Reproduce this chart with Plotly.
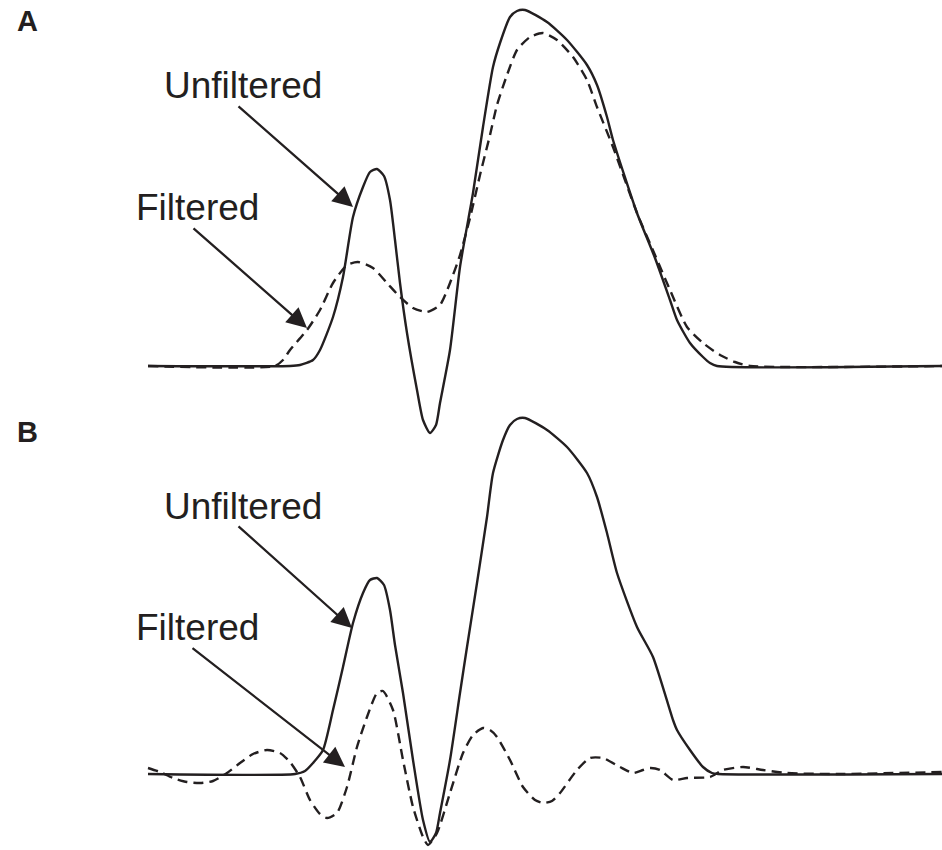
import plotly.graph_objects as go

# ---- Panel A (time in ms-like units, amplitude in arbitrary units) ----
a_solid_t = [0, 14.2, 15.2, 16.5, 17.2, 18.5, 19.5, 20.5, 21.5, 22.2, 22.9, 23.6, 24.2, 24.7,
             25.2, 25.9, 26.9, 27.5, 28.2, 28.8, 29.2, 30.2, 31.2, 32.2, 32.5, 33.5, 34.5, 35.2,
             36.2, 36.9, 37.7, 39.9, 41.9, 43.9, 44.9, 45.9, 46.5, 48.9, 50.7, 52.2, 52.9, 54.2,
             55.5, 56.2, 56.9, 79.4]
a_solid_v = [0, 0, 0.01, 0.06, 0.16, 0.49, 0.89, 1.49, 1.79, 1.94, 1.97, 1.90, 1.66, 1.26,
             0.83, 0.33, -0.24, -0.54, -0.67, -0.59, -0.37, 0.16, 0.99, 1.56, 1.73, 2.39, 2.99, 3.23,
             3.49, 3.55, 3.56, 3.44, 3.26, 3.01, 2.81, 2.49, 2.26, 1.53, 1.08, 0.66, 0.46, 0.23,
             0.09, 0.03, 0, 0]

a_filt_t = [0, 12.7, 13.5, 14.2, 15.9, 17.2, 18.5, 19.9, 21.0, 22.5, 23.9, 25.2, 26.5, 27.9,
            29.2, 30.2, 31.2, 32.2, 33.2, 34.2, 34.9, 35.9, 36.9, 38.2, 39.5, 40.9, 42.5, 43.9,
            44.9, 46.5, 48.9, 50.7, 52.2, 53.9, 55.5, 57.2, 58.7, 60.2, 79.4]
a_filt_v = [0, 0, 0.06, 0.16, 0.36, 0.56, 0.83, 1.01, 1.04, 0.98, 0.83, 0.69, 0.58, 0.54,
            0.61, 0.83, 1.11, 1.48, 1.91, 2.31, 2.61, 2.91, 3.16, 3.29, 3.33, 3.26, 3.09, 2.86,
            2.59, 2.19, 1.53, 1.11, 0.76, 0.39, 0.23, 0.11, 0.04, 0, 0]

# ---- Panel B ----
b_solid_t = [0, 14.7, 15.7, 16.5, 17.5, 18.5, 19.5, 20.5, 21.5, 22.2, 22.9, 23.6, 24.2, 24.7,
             25.5, 26.5, 27.5, 28.2, 28.8, 29.2, 30.2, 31.2, 31.9, 32.9, 33.9, 34.5, 35.5, 36.2,
             36.9, 37.7, 39.9, 41.9, 43.9, 44.9, 45.9, 46.9, 48.9, 50.5, 52.5, 52.9, 54.2, 55.5,
             56.4, 57.0, 79.4]
b_solid_v = [0, 0, 0.03, 0.11, 0.24, 0.64, 1.07, 1.51, 1.81, 1.94, 1.96, 1.89, 1.64, 1.29,
             0.81, 0.14, -0.46, -0.68, -0.59, -0.39, 0.14, 0.81, 1.27, 1.91, 2.57, 3.01, 3.34, 3.49,
             3.55, 3.56, 3.44, 3.27, 3.01, 2.77, 2.41, 2.01, 1.47, 1.17, 0.54, 0.44, 0.24, 0.07,
             0.01, 0, 0]

b_filt_t = [0, 1.2, 2.5, 3.9, 5.2, 6.5, 7.9, 9.2, 10.5, 11.9, 13.2, 14.2, 15.2, 16.2, 17.2,
            17.9, 18.9, 19.9, 20.9, 21.9, 22.9, 23.5, 24.5, 25.5, 26.5, 27.5, 28.0, 28.9, 30.2,
            31.5, 32.5, 33.5, 34.2, 34.9, 36.2, 37.5, 38.7, 39.5, 40.4, 41.2, 42.9, 44.2, 45.5,
            47.2, 48.5, 49.5, 50.2, 51.2, 52.5, 53.9, 56.2, 57.5, 59.5, 61.5, 63.9, 68.9, 79.4]
b_filt_v = [0.06, 0.02, -0.04, -0.08, -0.09, -0.07, 0.01, 0.11, 0.20, 0.24, 0.21, 0.12, -0.03,
            -0.26, -0.40, -0.44, -0.39, -0.13, 0.27, 0.57, 0.81, 0.83, 0.64, 0.14, -0.33, -0.63,
            -0.71, -0.59, -0.19, 0.21, 0.39, 0.46, 0.44, 0.37, 0.14, -0.13, -0.26, -0.29, -0.27,
            -0.19, 0.04, 0.16, 0.16, 0.07, 0.01, 0.04, 0.06, 0.04, -0.06, -0.04, -0.03, 0.04, 0.07,
            0.04, 0.01, 0, 0.02]

panel_labels = ["A", "B"]
label_unf = "Unfiltered"
label_filt = "Filtered"

INK = "#231f20"
FONT = "Liberation Sans, Arial, sans-serif"

fig = go.Figure()
solid = dict(color=INK, width=2.4, shape="spline", smoothing=0.6)
dashed = dict(color=INK, width=2.4, dash="10px,6px", shape="spline", smoothing=0.6)

fig.add_trace(go.Scatter(x=a_filt_t, y=a_filt_v, mode="lines", line=dashed, xaxis="x", yaxis="y"))
fig.add_trace(go.Scatter(x=a_solid_t, y=a_solid_v, mode="lines", line=solid, xaxis="x", yaxis="y"))
fig.add_trace(go.Scatter(x=b_filt_t, y=b_filt_v, mode="lines", line=dashed, xaxis="x2", yaxis="y2"))
fig.add_trace(go.Scatter(x=b_solid_t, y=b_solid_v, mode="lines", line=solid, xaxis="x2", yaxis="y2"))

hidden = dict(visible=False, showgrid=False, zeroline=False, fixedrange=True)

fig.update_layout(
    width=942, height=850,
    margin=dict(l=0, r=0, t=0, b=0),
    paper_bgcolor="white", plot_bgcolor="rgba(0,0,0,0)",
    showlegend=False,
    xaxis=dict(domain=[0, 1], range=[-14.8, 79.4], **hidden),
    yaxis=dict(domain=[1 - 445 / 850, 1], range=[-0.79, 3.66], **hidden),
    xaxis2=dict(domain=[0, 1], range=[-14.8, 79.4], anchor="y2", **hidden),
    yaxis2=dict(domain=[0, 1 - 405 / 850], range=[-0.76, 3.69], anchor="x2", **hidden),
)

ann = []
# panel letters
for lab, py in zip(panel_labels, (21.5, 431.5)):
    ann.append(dict(text="<b>" + lab + "</b>", x=27.5 / 942, y=1 - py / 850, xref="paper",
                    yref="paper", showarrow=False, font=dict(family=FONT, size=29, color=INK),
                    xanchor="center", yanchor="middle"))

# text labels
for xr, yr, yu, yf in (("x", "y", 2.81, 1.585), ("x2", "y2", 2.68, 1.465)):
    ann.append(dict(text=label_unf, x=9.45, y=yu, xref=xr, yref=yr, showarrow=False,
                    font=dict(family=FONT, size=37, color=INK), xanchor="center", yanchor="middle"))
    ann.append(dict(text=label_filt, x=4.95, y=yf, xref=xr, yref=yr, showarrow=False,
                    font=dict(family=FONT, size=37, color=INK), xanchor="center", yanchor="middle"))

# arrows (tip, tail)
arrows = [
    ("x", "y", (20.5, 1.59), (8.9, 2.61)),
    ("x", "y", (15.9, 0.38), (4.4, 1.39)),
    ("x2", "y2", (20.4, 1.46), (8.9, 2.49)),
    ("x2", "y2", (19.7, 0.07), (4.3, 1.27)),
]
for xr, yr, tip, tail in arrows:
    ann.append(dict(text="", x=tip[0], y=tip[1], ax=tail[0], ay=tail[1], xref=xr, yref=yr,
                    axref=xr, ayref=yr, showarrow=True, arrowhead=2, arrowsize=1.75,
                    arrowwidth=2.3, arrowcolor=INK, standoff=0, startstandoff=0))

fig.update_layout(annotations=ann)
fig.write_html("out.html", config={"displayModeBar": False},
               post_script="document.body.style.margin='0px';document.body.style.overflow='hidden';")
